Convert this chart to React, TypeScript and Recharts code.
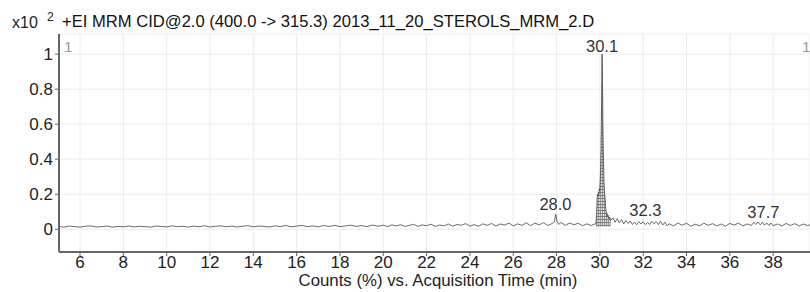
import React from 'react';
import {
  ComposedChart,
  Line,
  Area,
  XAxis,
  YAxis,
  CartesianGrid,
  ReferenceDot,
} from 'recharts';

// [acquisition time (min), counts x10^2]
const earlyBaseline: [number, number][] = [
  [5.0, 0.016], [5.25, 0.012], [5.5, 0.018], [5.75, 0.015], [6.0, 0.012],
  [6.25, 0.017], [6.5, 0.019], [6.75, 0.013], [7.0, 0.015], [7.25, 0.018],
  [7.5, 0.012], [7.75, 0.016], [8.0, 0.014], [8.25, 0.019], [8.5, 0.013],
  [8.75, 0.017], [9.0, 0.015], [9.25, 0.012], [9.5, 0.018], [9.75, 0.016],
  [10.0, 0.013], [10.25, 0.019], [10.5, 0.015], [10.75, 0.017], [11.0, 0.012],
  [11.25, 0.018], [11.5, 0.014], [11.75, 0.02], [12.0, 0.013], [12.25, 0.017],
  [12.5, 0.019], [12.75, 0.014], [13.0, 0.018], [13.25, 0.013], [13.5, 0.017],
  [13.75, 0.02], [14.0, 0.014], [14.25, 0.018], [14.5, 0.016], [14.75, 0.013],
  [15.0, 0.019], [15.25, 0.015], [15.5, 0.021], [15.75, 0.014], [16.0, 0.018],
  [16.25, 0.022], [16.5, 0.015], [16.75, 0.019], [17.0, 0.014], [17.25, 0.021],
  [17.5, 0.016], [17.75, 0.022], [18.0, 0.015], [18.25, 0.019], [18.5, 0.023],
  [18.75, 0.016], [19.0, 0.021], [19.25, 0.015], [19.5, 0.024], [19.75, 0.017],
];

const midBaseline: [number, number][] = [
  [20.0, 0.023], [20.2, 0.015], [20.4, 0.025], [20.6, 0.019], [20.8, 0.026],
  [21.0, 0.016], [21.2, 0.022], [21.4, 0.028], [21.6, 0.016], [21.8, 0.025],
  [22.0, 0.02], [22.2, 0.029], [22.4, 0.016], [22.6, 0.024], [22.8, 0.019],
  [23.0, 0.03], [23.2, 0.017], [23.4, 0.027], [23.6, 0.023], [23.8, 0.032],
  [24.0, 0.018], [24.2, 0.026], [24.4, 0.017], [24.6, 0.031], [24.8, 0.022],
  [25.0, 0.033], [25.2, 0.018], [25.4, 0.03], [25.6, 0.024], [25.8, 0.035],
  [26.0, 0.019], [26.2, 0.031], [26.4, 0.022], [26.6, 0.037], [26.8, 0.02],
  [27.0, 0.035], [27.2, 0.025], [27.4, 0.038], [27.6, 0.021], [27.8, 0.033],
  [27.9, 0.042], [27.96, 0.086], [28.02, 0.046], [28.1, 0.027], [28.2, 0.039],
  [28.4, 0.022], [28.6, 0.035], [28.8, 0.026], [29.0, 0.034], [29.2, 0.02],
  [29.4, 0.031], [29.6, 0.021], [29.76, 0.03],
];

const mainPeak: [number, number][] = [
  [29.82, 0.03], [29.85, 0.09], [29.87, 0.17], [29.89, 0.2], [29.91, 0.19],
  [29.93, 0.21], [29.95, 0.2], [29.97, 0.23], [29.99, 0.22], [30.01, 0.27],
  [30.03, 0.33], [30.05, 0.45], [30.07, 0.62], [30.09, 0.86], [30.1, 1.0],
  [30.11, 0.93], [30.12, 0.84], [30.13, 0.74], [30.14, 0.6], [30.15, 0.5],
  [30.17, 0.38], [30.19, 0.27], [30.21, 0.22], [30.23, 0.19], [30.25, 0.16],
  [30.27, 0.12], [30.29, 0.1], [30.31, 0.08], [30.33, 0.09], [30.35, 0.07],
  [30.38, 0.08], [30.41, 0.06], [30.45, 0.07], [30.5, 0.05],
];

const lateBaseline: [number, number][] = [
  [30.6, 0.065], [30.7, 0.04], [30.8, 0.06], [30.9, 0.036], [31.0, 0.055],
  [31.1, 0.03], [31.2, 0.05], [31.3, 0.033], [31.4, 0.047], [31.5, 0.027],
  [31.6, 0.041], [31.7, 0.026], [31.8, 0.043], [31.9, 0.03], [32.0, 0.042],
  [32.1, 0.026], [32.2, 0.038], [32.3, 0.027], [32.4, 0.045], [32.5, 0.031],
  [32.6, 0.043], [32.7, 0.027], [32.8, 0.046], [32.9, 0.024], [33.0, 0.04],
  [33.1, 0.02], [33.2, 0.031], [33.4, 0.019], [33.6, 0.035], [33.8, 0.023],
  [34.0, 0.034], [34.2, 0.017], [34.4, 0.029], [34.6, 0.019], [34.8, 0.035],
  [35.0, 0.022], [35.2, 0.032], [35.4, 0.019], [35.6, 0.03], [35.8, 0.018],
  [36.0, 0.033], [36.2, 0.024], [36.4, 0.035], [36.6, 0.019], [36.8, 0.03],
  [37.0, 0.022], [37.1, 0.039], [37.2, 0.027], [37.3, 0.041], [37.4, 0.025],
  [37.5, 0.04], [37.6, 0.023], [37.7, 0.036], [37.8, 0.022], [37.9, 0.036],
  [38.0, 0.02], [38.2, 0.03], [38.4, 0.019], [38.6, 0.033], [38.8, 0.022],
  [39.0, 0.032], [39.2, 0.019], [39.4, 0.03], [39.6, 0.02], [39.8, 0.033],
];

const xTicks = [6, 8, 10, 12, 14, 16, 18, 20, 22, 24, 26, 28, 30, 32, 34, 36, 38];
const yTicks = [0, 0.2, 0.4, 0.6, 0.8, 1];

// peak labels: [text, time, label baseline height]
const peakLabels: [string, number, number][] = [
  ['30.1', 30.1, 1.011],
  ['28.0', 27.95, 0.109],
  ['32.3', 32.1, 0.074],
  ['37.7', 37.55, 0.063],
];

const peakTimes = new Set(mainPeak.map(([t]) => t));
const chartData = [...earlyBaseline, ...midBaseline, ...mainPeak, ...lateBaseline].map(
  ([t, v]) => ({ t, v, p: peakTimes.has(t) ? v : null })
);

const FONT = '"Liberation Sans", Arial, Helvetica, sans-serif';

const PeakLabel = (props: any) => {
  const { viewBox, value } = props;
  return (
    <text
      x={viewBox.x}
      y={viewBox.y}
      textAnchor="middle"
      fontSize={16.5}
      fontFamily={FONT}
      fill="#333"
    >
      {value}
    </text>
  );
};

export default function App() {
  return (
    <div
      style={{
        position: 'fixed',
        left: 0,
        top: 0,
        width: 810,
        height: 292,
        background: '#fff',
        fontFamily: FONT,
        overflow: 'hidden',
      }}
    >
      <ComposedChart
        width={810}
        height={292}
        data={chartData}
        margin={{ top: 34, right: 0, bottom: 0, left: 9 }}
      >
        <defs>
          <pattern id="hatch" width="2" height="3" patternUnits="userSpaceOnUse">
            <rect width="2" height="3" fill="#d8d8d8" />
            <path d="M0 0.5 H2" stroke="#666" strokeWidth={0.8} />
            <path d="M0.5 0 V3" stroke="#777" strokeWidth={0.6} />
          </pattern>
        </defs>
        <CartesianGrid stroke="#ececec" strokeWidth={1} />
        <XAxis
          dataKey="t"
          type="number"
          domain={[5.03, 39.7]}
          ticks={xTicks}
          allowDataOverflow
          height={40}
          tickSize={4}
          tickMargin={0}
          axisLine={{ stroke: '#666', strokeWidth: 2 }}
          tickLine={{ stroke: '#666' }}
          tick={{ fill: '#222', fontSize: 17, fontFamily: FONT }}
        />
        <YAxis
          type="number"
          domain={[-0.13, 1.115]}
          ticks={yTicks}
          allowDataOverflow
          width={50}
          tickSize={4}
          tickMargin={2}
          tickFormatter={(v: number) => String(v)}
          axisLine={{ stroke: '#666', strokeWidth: 2 }}
          tickLine={{ stroke: '#666' }}
          tick={{ fill: '#222', fontSize: 17, fontFamily: FONT }}
        />
        <Area
          type="linear"
          dataKey="p"
          baseValue={0.015}
          stroke="none"
          fill="url(#hatch)"
          fillOpacity={1}
          connectNulls={false}
          isAnimationActive={false}
        />
        <Line
          type="linear"
          dataKey="v"
          stroke="#444"
          strokeWidth={0.8}
          dot={false}
          isAnimationActive={false}
        />
        {peakLabels.map(([text, t, y]) => (
          <ReferenceDot
            key={text}
            x={t}
            y={y}
            r={0}
            fill="none"
            stroke="none"
            label={<PeakLabel value={text} />}
          />
        ))}
      </ComposedChart>
      <svg
        width={810}
        height={292}
        style={{ position: 'absolute', left: 0, top: 0, pointerEvents: 'none' }}
        fontFamily={FONT}
      >
        <text x={12} y={28} fontSize={16} fill="#222">x10</text>
        <text x={47} y={21} fontSize={12} fill="#222">2</text>
        <text x={62} y={27} fontSize={16.6} fill="#111">
          +EI MRM CID@2.0 (400.0 -&gt; 315.3) 2013_11_20_STEROLS_MRM_2.D
        </text>
        <text x={64} y={52} fontSize={15} fill="#999">1</text>
        <text x={802} y={52} fontSize={15} fill="#999">1</text>
        <text x={438} y={286} fontSize={16.8} fill="#222" textAnchor="middle">
          Counts (%) vs. Acquisition Time (min)
        </text>
      </svg>
    </div>
  );
}
